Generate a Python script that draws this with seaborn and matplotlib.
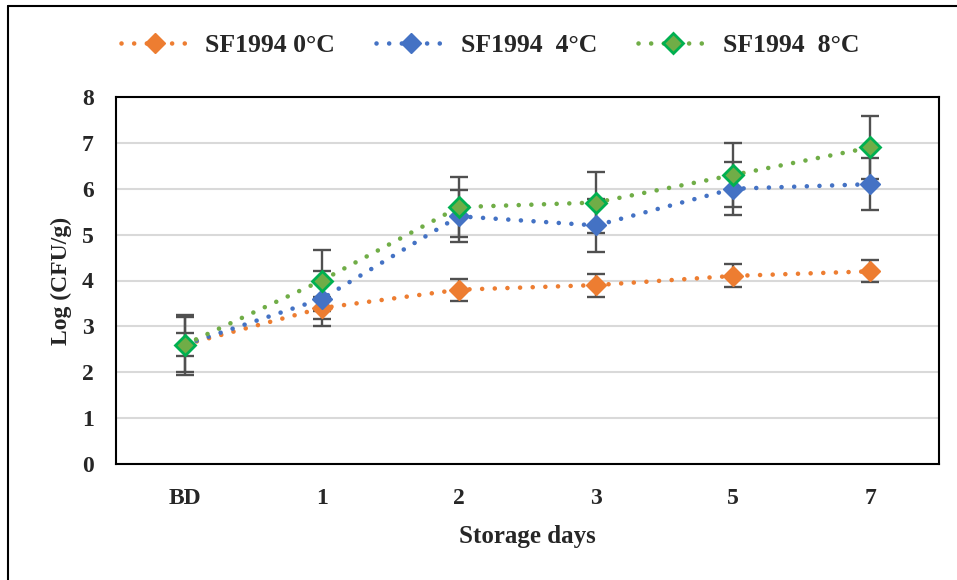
import numpy as np
import pandas as pd
import matplotlib
matplotlib.use("Agg")
import matplotlib.pyplot as plt
import seaborn as sns
from matplotlib.lines import Line2D

categories = ["BD", "1", "2", "3", "5", "7"]
series_names = ["SF1994 0°C", "SF1994  4°C", "SF1994  8°C"]
vals_0C = [2.6, 3.4, 3.8, 3.9, 4.1, 4.2]
vals_4C = [2.6, 3.6, 5.4, 5.2, 6.0, 6.1]
vals_8C = [2.6, 4.0, 5.6, 5.7, 6.3, 6.9]
err_0C = [0.65, 0.25, 0.24, 0.25, 0.25, 0.24]
err_4C = [0.60, 0.60, 0.57, 0.57, 0.58, 0.57]
err_8C = [0.25, 0.66, 0.65, 0.67, 0.69, 0.68]

colors = ["#ED7D31", "#4472C4", "#70AD47"]
edge_colors = ["#ED7D31", "#4472C4", "#00B050"]

sns.set_style("white")
plt.rcParams['font.family'] = ['Liberation Serif', 'DejaVu Serif']
plt.rcParams['font.weight'] = 'bold'

x = np.arange(len(categories))
rows = []
for name, vals in zip(series_names, [vals_0C, vals_4C, vals_8C]):
    for xi, v in zip(x, vals):
        rows.append({"x": xi, "y": v, "series": name})
df = pd.DataFrame(rows)

fig = plt.figure(figsize=(9.57, 5.8), dpi=100)
ax = fig.add_axes([116/957, 1-464/580, (939-116)/957, (464-97)/580])

# error bars behind
for vals, errs in zip([vals_0C, vals_4C, vals_8C], [err_0C, err_4C, err_8C]):
    ax.errorbar(x, vals, yerr=errs, fmt='none', ecolor='#505050',
                elinewidth=1.7, capsize=6.5, capthick=1.7, zorder=3)

LW = 3.3
dot = (0, (0.01, 2.75))
sns.lineplot(data=df, x="x", y="y", hue="series", palette=colors,
             hue_order=series_names, ax=ax, legend=False, linewidth=LW,
             zorder=4)
for line, c in zip(ax.get_lines()[-3:], colors):
    line.set_linestyle(dot)
    line.set_dash_capstyle('round')

for vals, c, ec in zip([vals_0C, vals_4C, vals_8C], colors, edge_colors):
    ax.plot(x, vals, linestyle='none', marker='D', markersize=10,
            markerfacecolor=c, markeredgecolor=ec,
            markeredgewidth=2 if ec != c else 1, zorder=5)

ax.set_xlim(-0.5, len(categories) - 0.5)
ax.set_ylim(0, 8)
ax.set_xticks(x)
ax.set_xticklabels(categories)
ax.set_yticks(range(0, 9))
ax.tick_params(axis='x', labelsize=17, length=0, pad=17)
ax.tick_params(axis='y', labelsize=17, length=0, pad=16)
for lab in ax.get_xticklabels() + ax.get_yticklabels():
    lab.set_fontweight('bold')
ax.yaxis.grid(True, color='#D9D9D9', linewidth=1.5)
ax.set_axisbelow(True)
for sp in ax.spines.values():
    sp.set_visible(True)
    sp.set_color('black')
    sp.set_linewidth(1.5)
    sp.set_zorder(6)

ax.set_xlabel("Storage days", fontsize=18, fontweight='bold', labelpad=12)
ax.set_ylabel("Log (CFU/g)", fontsize=17, fontweight='bold', labelpad=7)

handles = []
for c, ec, name in zip(colors, edge_colors, series_names):
    h = Line2D([0], [0], color=c, linewidth=LW, linestyle=dot,
               dash_capstyle='round', marker='D', markersize=10,
               markerfacecolor=c, markeredgecolor=ec,
               markeredgewidth=2 if ec != c else 1)
    handles.append(h)
fig.legend(handles=handles, labels=series_names, loc='center',
           bbox_to_anchor=(490/957, 1-45/580), ncol=3, frameon=False,
           prop={'family': 'Liberation Serif', 'weight': 'bold', 'size': 18.5},
           handlelength=2.7, columnspacing=1.6, handletextpad=0.6)

# outer frame (top and left)
fig.add_artist(Line2D([8/957, 1.0], [1-6/580, 1-6/580], color='black',
                      linewidth=1.5, transform=fig.transFigure))
fig.add_artist(Line2D([8/957, 8/957], [0, 1-6/580], color='black',
                      linewidth=1.5, transform=fig.transFigure))

fig.savefig("out.png", dpi=100)
